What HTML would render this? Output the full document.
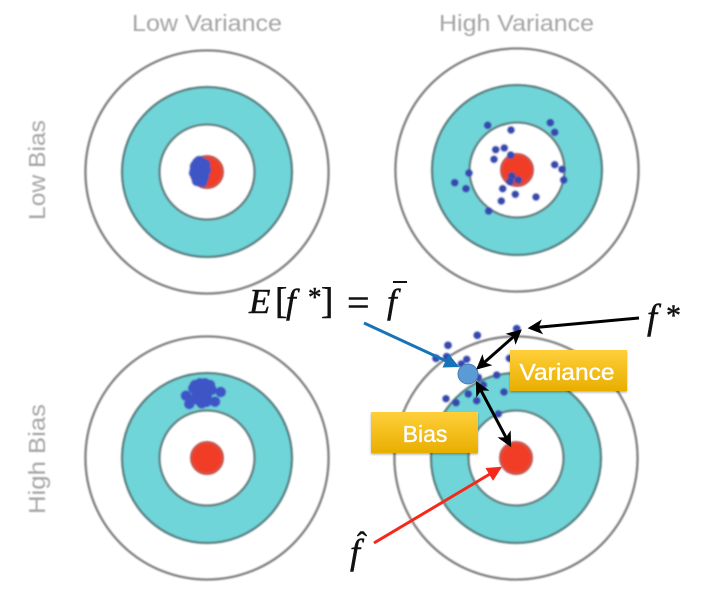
<!DOCTYPE html>
<html lang="en">
<head>
<meta charset="utf-8">
<title>Bias and Variance Targets</title>
<style>
html,body{margin:0;padding:0;background:#fff;}
svg{display:block;}
.head{font-family:"Liberation Sans",sans-serif;font-size:23px;fill:#a4a4a4;}
.math{font-family:"Liberation Serif",serif;fill:#111;stroke:#111;stroke-width:0.5;}
.it{font-style:italic;}
.badge{font-family:"Liberation Sans",sans-serif;font-size:23px;fill:#fff;stroke:#fff;stroke-width:0.35;text-anchor:middle;}
</style>
</head>
<body>
<svg id="chart" xmlns="http://www.w3.org/2000/svg" width="709" height="603" viewBox="0 0 709 603">
  <defs>
    <linearGradient id="gold" x1="0" y1="0" x2="0" y2="1">
      <stop offset="0" stop-color="#ffcf3a"/>
      <stop offset="1" stop-color="#e8ae00"/>
    </linearGradient>
    <filter id="soft" x="-5%" y="-5%" width="110%" height="110%"><feGaussianBlur stdDeviation="0.9"/></filter>
    <filter id="shadow" x="-5%" y="-5%" width="110%" height="120%"><feDropShadow dx="0" dy="1.5" stdDeviation="1" flood-color="#000" flood-opacity="0.3"/></filter>
    <marker id="mk-black" markerWidth="5" markerHeight="5" refX="4.2" refY="2.5" orient="auto-start-reverse" markerUnits="strokeWidth"><path d="M0,0 L5,2.5 L0,5 L1.3,2.5 Z" fill="#000"/></marker>
    <marker id="mk-blue" markerWidth="5" markerHeight="5" refX="4.2" refY="2.5" orient="auto" markerUnits="strokeWidth"><path d="M0,0 L5,2.5 L0,5 Z" fill="#1673b8"/></marker>
    <marker id="mk-red" markerWidth="5" markerHeight="5" refX="4.2" refY="2.5" orient="auto" markerUnits="strokeWidth"><path d="M0,0 L5,2.5 L0,5 Z" fill="#f5291a"/></marker>
  </defs>

  <g id="targets" filter="url(#soft)"></g>

  <g filter="url(#soft)">
    <text class="head" x="132" y="31" textLength="150" lengthAdjust="spacingAndGlyphs">Low Variance</text>
    <text class="head" x="439" y="31" textLength="155" lengthAdjust="spacingAndGlyphs">High Variance</text>
    <text class="head" transform="translate(45,220) rotate(-90)" textLength="100" lengthAdjust="spacingAndGlyphs">Low Bias</text>
    <text class="head" transform="translate(45,514) rotate(-90)" textLength="110" lengthAdjust="spacingAndGlyphs">High Bias</text>
  </g>

  <g>
    <rect x="510" y="350" width="117" height="41" fill="url(#gold)" filter="url(#shadow)"/>
    <text class="badge" x="567" y="380" textLength="95" lengthAdjust="spacingAndGlyphs">Variance</text>
  </g>
  <g>
    <rect x="371" y="412" width="107" height="41" fill="url(#gold)" filter="url(#shadow)"/>
    <text class="badge" x="425" y="442">Bias</text>
  </g>

  <circle cx="468" cy="374" r="10" fill="#5b9bd5" stroke="#4a7eb0" stroke-width="1"/>

  <line x1="364" y1="323" x2="457" y2="366" stroke="#1673b8" stroke-width="3" marker-end="url(#mk-blue)"/>
  <line x1="374" y1="543" x2="500" y2="468" stroke="#f5291a" stroke-width="3" marker-end="url(#mk-red)"/>
  <line x1="639" y1="318" x2="530" y2="328" stroke="#000" stroke-width="3" marker-end="url(#mk-black)"/>
  <line x1="520" y1="331" x2="478" y2="368" stroke="#000" stroke-width="3" marker-start="url(#mk-black)" marker-end="url(#mk-black)"/>
  <line x1="477" y1="383" x2="510" y2="445" stroke="#000" stroke-width="3" marker-start="url(#mk-black)" marker-end="url(#mk-black)"/>

  <g>
    <text class="math it" x="249" y="313" font-size="35">E</text>
    <text class="math" x="275" y="313" font-size="37">[</text>
    <text class="math it" x="286" y="313" font-size="35">f</text>
    <text class="math" x="308" y="306" font-size="27">*</text>
    <text class="math" x="321" y="313" font-size="37">]</text>
    <text class="math" x="347" y="316" font-size="40">=</text>
    <text class="math it" x="387" y="313" font-size="35">f</text>
    <line x1="393" y1="282" x2="407" y2="282" stroke="#111" stroke-width="2"/>
  </g>
  <g>
    <text class="math it" x="647" y="329" font-size="36">f</text>
    <text class="math" x="666" y="325" font-size="30">*</text>
  </g>
  <g>
    <text class="math it" x="350" y="564" font-size="36">f</text>
    <text class="math" x="357" y="552" font-size="30">ˆ</text>
  </g>
</svg>
<script>
// Shot offsets from each target's bullseye, in ring units.
var lowBiasLowVarX = [-12,-10,-8,-6,-4,-13,-11,-7,-5,-9,-3,-8,-12,-6,-10,-4,-2,-1,-3,-5];
var lowBiasLowVarY = [-3,-9,-11,-10,-7,1,5,8,6,-2,-1,2,-6,-4,9,3,-8,-2,5,10];
var lowBiasHighVarX = [-29.3,-6,33.3,37.7,-21.3,-12.7,-23,-6.3,37.7,45,46.7,-48,-62.3,-51,-14.3,-1.7,19,-15.7,-28.3,-5.3,1.3,-7];
var lowBiasHighVarY = [-44.7,-40,-47.3,-37.7,-20.3,-22,-10.7,-15,-5.3,-0.7,10,3,12.7,18.7,18.7,24.3,27,31,41,6,10,11.7];
var highBiasLowVarX = [-21,-17.7,13.7,8,-5.3,-12,3,-3.7,-10.3,-0.3,-5.3,-13.7,4.7,-7,-2,-8.7,-0.3,-12];
var highBiasLowVarY = [-62.3,-54,-66,-56.3,-54.7,-73,-73,-69.7,-64.7,-61.3,-61.3,-69.7,-68,-74.7,-74.7,-58,-56.3,-59.7];
var highBiasHighVarX = [0.7,-38.7,-68,-69.3,-80,-54.7,-49.3,-19.3,-6.7,-12,-32.7,-47.7,-39.3,-60,-70,-17.7,-37.7];
var highBiasHighVarY = [-129.3,-122.7,-112.7,-101.3,-99.7,-94,-98.7,-83,-99.7,-66,-73,-64,-57.3,-55.3,-59.3,-44,-80.7];

var targetNames = ['low-bias-low-variance','low-bias-high-variance','high-bias-low-variance','high-bias-high-variance'];
var centerColumns = [207,517,207,516];
var centerRows = [172,170,458,458];
var shotsX = [lowBiasLowVarX,lowBiasHighVarX,highBiasLowVarX,highBiasHighVarX];
var shotsY = [lowBiasLowVarY,lowBiasHighVarY,highBiasLowVarY,highBiasHighVarY];

var NS = 'http://www.w3.org/2000/svg';
var layer = document.getElementById('targets');

function scaleX(target, value) { return centerColumns[target] + value; }
function scaleY(target, value) { return centerRows[target] + value; }

function addCircle(parent, cx, cy, r, fill, stroke, width) {
  var c = document.createElementNS(NS, 'circle');
  c.setAttribute('cx', cx);
  c.setAttribute('cy', cy);
  c.setAttribute('r', r);
  c.setAttribute('fill', fill);
  if (stroke) {
    c.setAttribute('stroke', stroke);
    c.setAttribute('stroke-width', width);
  }
  parent.appendChild(c);
  return c;
}

targetNames.forEach(function (name, t) {
  var g = document.createElementNS(NS, 'g');
  
  
  layer.appendChild(g);
  var cx = scaleX(t, 0), cy = scaleY(t, 0);
  var outer = addCircle(g, cx, cy, 121.5, '#fff', '#868686', 2.6);
  
  
  var band = addCircle(g, cx, cy, 85, '#6fd5d8', '#5a8689', 2.6);
  
  
  var inner = addCircle(g, cx, cy, 47.5, '#fff', '#668688', 2.6);
  
  
  var eye = addCircle(g, cx, cy, 16, '#f23d26', '#c9594f', 2.5);
  
  
  var dense = (t === 0 || t === 2);
  shotsX[t].forEach(function (v, i) {
    var dot = addCircle(g, scaleX(t, v), scaleY(t, shotsY[t][i]), dense ? 5 : 3.6, dense ? '#3c55c8' : '#3548ae', 'rgba(70,90,190,0.35)', 1.6);
    
    
  });
});
</script>
</body>
</html>
